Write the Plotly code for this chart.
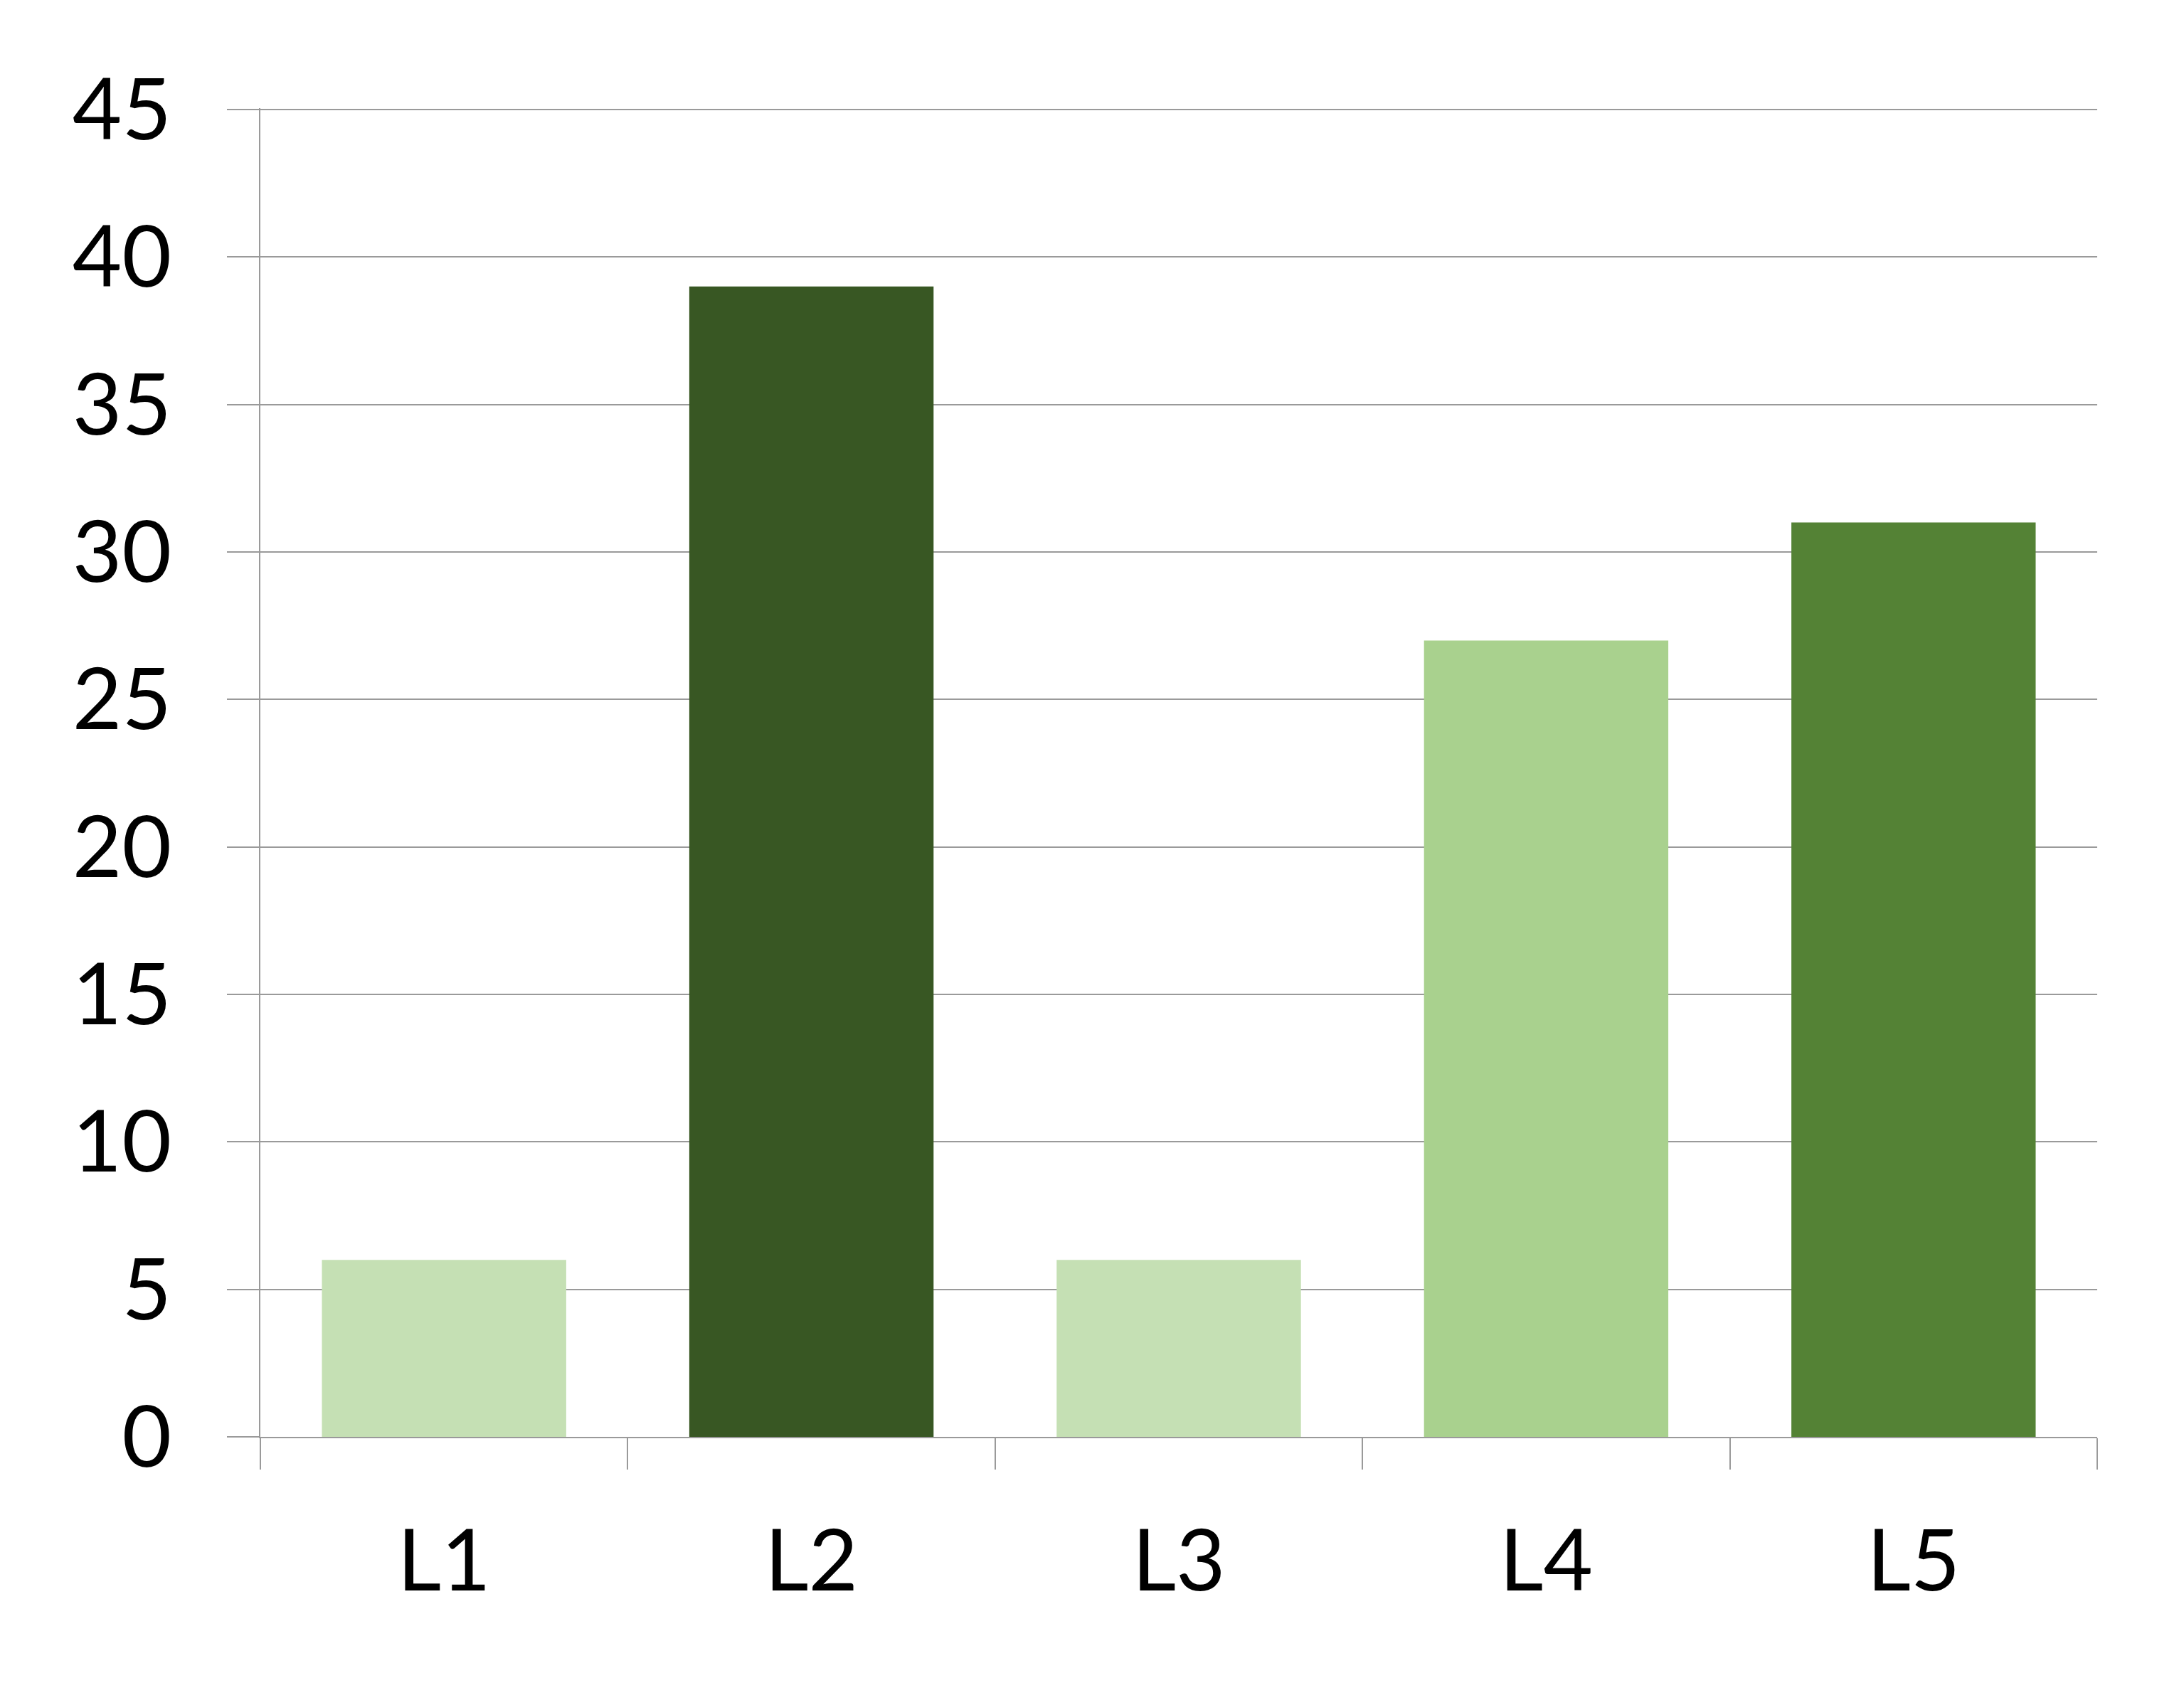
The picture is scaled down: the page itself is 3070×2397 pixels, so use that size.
#Import libraries
import plotly.graph_objects as go

#Chart data
categories = ['L1', 'L2', 'L3', 'L4', 'L5']
values = [6, 39, 6, 27, 31]
bar_colors = ['#C5E0B4', '#385723', '#C5E0B4', '#A9D18E', '#548235']
y_ticks = [0, 5, 10, 15, 20, 25, 30, 35, 40, 45]

grid_color = '#9A9A9A'
font_family = 'Lato, Open Sans, sans-serif'

fig = go.Figure()

#Bar trace
fig.add_trace(go.Bar(x = categories, y = values,
                     marker = {'color': bar_colors, 'line': {'width': 0}},
                     showlegend = False))

fig.update_xaxes(type = 'category',
                 showline = True,
                 linecolor = grid_color,
                 linewidth = 2,
                 ticks = 'outside',
                 tickson = 'boundaries',
                 ticklen = 44,
                 tickwidth = 2,
                 tickcolor = grid_color,
                 ticklabelstandoff = 70,
                 showgrid = False,
                 tickfont = {'size': 120, 'color': 'black', 'family': font_family})

# range a hair above 45 so the top gridline is drawn
fig.update_yaxes(range = [0, 45.05],
                 tickvals = y_ticks,
                 showline = True,
                 linecolor = grid_color,
                 linewidth = 2,
                 showgrid = True,
                 gridcolor = grid_color,
                 gridwidth = 2,
                 zeroline = False,
                 ticks = 'outside',
                 ticklen = 45,
                 tickwidth = 2,
                 tickcolor = grid_color,
                 ticklabelstandoff = 54,
                 tickfont = {'size': 120, 'color': 'black', 'family': font_family})

fig.update_layout(width = 3070, height = 2397,
                  bargap = 0.335,
                  plot_bgcolor = 'white',
                  paper_bgcolor = 'white',
                  margin = {'l': 358, 'r': 130, 't': 144, 'b': 385, 'autoexpand': False})

fig.write_html('out.html')
